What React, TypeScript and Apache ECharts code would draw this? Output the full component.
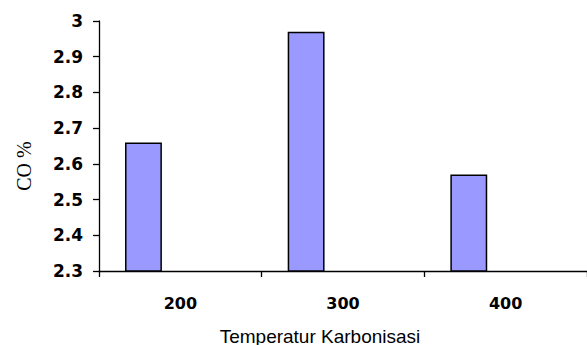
import React, { useEffect, useRef } from "react";
import * as echarts from "echarts";

const categories = ["200", "300", "400"];
const coValues = [2.66, 2.97, 2.57];
const emptyA = ["-", "-", "-"];
const emptyB = ["-", "-", "-"];
const yMin = 2.3;
const yMax = 3;
const yStep = 0.1;
const xTitle = "Temperatur Karbonisasi";
const yTitle = "CO %";

export default function App() {
  const ref = useRef<HTMLDivElement>(null);
  useEffect(() => {
    if (!ref.current) return;
    const chart = echarts.init(ref.current, undefined, { renderer: "svg" });
    const barStyle = { color: "#9999FF", borderColor: "#000000", borderWidth: 1.5 };
    const boldText = { fontFamily: "DejaVu Sans", fontWeight: "bold", fontSize: 16, color: "#000" };
    chart.setOption({
      animation: false,
      backgroundColor: "#ffffff",
      grid: { left: 99, top: 21, width: 490, height: 250, containLabel: false },
      xAxis: {
        type: "category",
        data: categories,
        axisLine: { lineStyle: { color: "#000", width: 1.3 } },
        axisTick: { show: true, length: 6, lineStyle: { color: "#000", width: 1.3 } },
        axisLabel: {
          ...boldText,
          margin: 24,
        },
      },
      yAxis: {
        type: "value",
        min: yMin,
        max: yMax,
        interval: yStep,
        splitLine: { show: false },
        axisLine: { show: true, lineStyle: { color: "#000", width: 1.3 } },
        axisTick: { show: true, length: 6, lineStyle: { color: "#000", width: 1.3 } },
        axisLabel: {
          ...boldText,
          fontSize: 17,
          margin: 16,
          formatter: (v: number) => String(Math.round(v * 10) / 10),
        },
      },
      series: [
        { type: "bar", data: coValues, itemStyle: barStyle, barGap: "0%", barCategoryGap: "32%" },
        { type: "bar", data: emptyA, itemStyle: barStyle },
        { type: "bar", data: emptyB, itemStyle: barStyle },
      ],
      graphic: [
        {
          type: "text",
          x: 320,
          y: 336,
          style: {
            text: xTitle,
            fontFamily: "Liberation Sans",
            fontSize: 19,
            fill: "#000",
            align: "center",
            verticalAlign: "middle",
          },
        },
        {
          type: "text",
          x: 24,
          y: 166,
          rotation: Math.PI / 2,
          style: {
            text: yTitle,
            fontFamily: "Liberation Serif",
            fontSize: 20,
            fill: "#000",
            align: "center",
            verticalAlign: "middle",
          },
        },
      ],
    });
    return () => chart.dispose();
  }, []);
  return (
    <div
      ref={ref}
      style={{ position: "fixed", left: 0, top: 0, width: 587, height: 345 }}
    />
  );
}
